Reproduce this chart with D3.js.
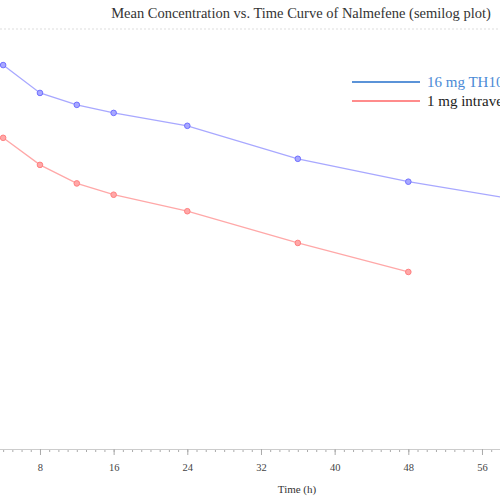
<!DOCTYPE html>
<html>
<head>
<meta charset="utf-8">
<script src="https://cdn.jsdelivr.net/npm/d3@7"></script>
<style>
  body { margin: 0; background: #fff; }
  svg { display: block; font-family: "Liberation Serif", "DejaVu Serif", serif; }
</style>
</head>
<body>
<div id="chart"></div>
<script>
// hours after dose
const timesTH = [4, 8, 12, 16, 24, 36, 48, 72];
const concTH = [4.84, 3.09, 2.55, 2.24, 1.82, 1.07, 0.74, 0.41];
const timesIV = [4, 8, 12, 16, 24, 36, 48];
const concIV = [1.50, 0.97, 0.72, 0.60, 0.46, 0.276, 0.173];
const xTickLabels = [8, 16, 24, 32, 40, 48, 56];
const seriesNames = ["16 mg TH102 intranasal", "1 mg intravenous"];

const width = 500, height = 500;
const axisY = 449;

const svg = d3.select('#chart').append('svg')
    .attr('width', width)
    .attr('height', height);

// plot is wider than the frame, left part is cut off
const x = d3.scaleLinear().domain([0, 58]).range([-33.7, 500.4]);
const y = d3.scaleLog().domain([0.01, 10]).range([axisY, 20]);

// title
svg.append('text')
    .attr('x', 301)
    .attr('y', 18)
    .attr('text-anchor', 'middle')
    .style('font-size', '14.5px')
    .style('fill', '#333')
    .text("Mean Concentration vs. Time Curve of Nalmefene (semilog plot)");

svg.append('line')
    .attr('x1', 0).attr('x2', width)
    .attr('y1', 29).attr('y2', 29)
    .attr('stroke', '#ddd')
    .attr('stroke-dasharray', '2,2');

// x axis: minor ticks every hour, labels every 8
const gx = svg.append('g').attr('transform', `translate(0,${axisY})`);
gx.call(d3.axisBottom(x).tickValues(d3.range(0, 59, 1)).tickSize(3).tickFormat(''));
gx.append('g').call(d3.axisBottom(x).tickValues(xTickLabels).tickSize(6).tickFormat(d3.format('d')));
gx.selectAll('.domain').attr('stroke', '#ccc');
gx.selectAll('.tick line').attr('stroke', '#aaa');
gx.selectAll('.tick text')
    .style('font-family', '"Liberation Serif", serif')
    .style('font-size', '10.5px')
    .style('fill', '#444')
    .attr('dy', '1.2em');

svg.append('text')
    .attr('x', 297)
    .attr('y', 493)
    .attr('text-anchor', 'middle')
    .style('font-size', '11px')
    .style('fill', '#333')
    .text("Time (h)");

function drawSeries(times, conc, lineColor, dotColor) {
    const pts = times.map((t, i) => [t, conc[i]]);
    const line = d3.line().x(d => x(d[0])).y(d => y(d[1]));
    svg.append('path')
        .datum(pts)
        .attr('d', line)
        .attr('fill', 'none')
        .attr('stroke', lineColor)
        .attr('stroke-width', 1.3);
    svg.append('g').selectAll('circle')
        .data(pts)
        .enter()
        .append('circle')
        .attr('cx', d => x(d[0]))
        .attr('cy', d => y(d[1]))
        .attr('r', 2.8)
        .attr('fill', lineColor)
        .attr('stroke', dotColor)
        .attr('stroke-width', 1);
}

drawSeries(timesTH, concTH, '#a8a8ff', '#7070ff');
drawSeries(timesIV, concIV, '#ffa8a8', '#ff8080');

// legend (runs past the right edge, as in the source)
const legend = [
    {name: seriesNames[0], line: '#5b93d8', text: '#4a8ad6', y: 82},
    {name: seriesNames[1], line: '#ff8c8c', text: '#222', y: 101}
];
const lg = svg.append('g');
legend.forEach(d => {
    lg.append('line')
        .attr('x1', 352).attr('x2', 420)
        .attr('y1', d.y).attr('y2', d.y)
        .attr('stroke', d.line)
        .attr('stroke-width', 2);
    lg.append('text')
        .attr('x', 427)
        .attr('y', d.y + 5)
        .style('font-size', '15px')
        .style('fill', d.text)
        .text(d.name);
});
</script>
</body>
</html>
